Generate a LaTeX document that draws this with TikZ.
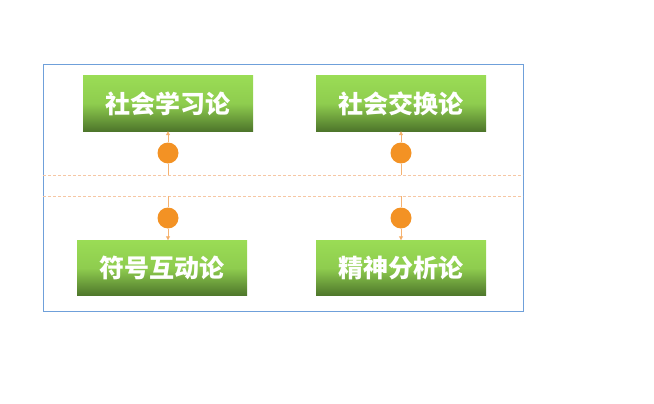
\documentclass[tikz,border=0pt]{standalone}
\usepackage{fontspec}
\newfontfamily\cjk{Noto Sans CJK SC}
\usepackage{xcolor}
\usepackage{tikz}
\usetikzlibrary{positioning,calc,arrows.meta}

\definecolor{framblue}{HTML}{6FA0DA}
\definecolor{lightorange}{HTML}{F6C7A4}
\definecolor{dotorange}{HTML}{F39224}
\definecolor{greentop}{HTML}{9ADC55}
\definecolor{greenbot}{HTML}{4E762B}

\begin{document}
\begin{tikzpicture}[
    x=1pt, y=-1pt,
    theory/.style={minimum width=170pt, minimum height=55pt, inner sep=0pt,
        top color=greentop, bottom color=greenbot, middle color=greentop!85!greenbot,
        font=\cjk\bfseries\fontsize{25}{25}\selectfont, text=white},
    dot/.style={circle, fill=dotorange, minimum size=21pt, inner sep=0pt},
    guide/.style={draw=lightorange, densely dashed, line width=1pt},
    link/.style={draw=lightorange!60!dotorange, line width=0.8pt},
    linkarrow/.style={link, -{Triangle[length=4pt,width=4pt,fill=dotorange!80]}}
]
\useasboundingbox (0,0) rectangle (654,404);
\draw[draw=framblue, line width=1pt] (43,65) rectangle (523,311);

% guide lines
\coordinate (gl1) at (43,175);
\coordinate (gr1) at (523,175);
\coordinate (gl2) at (43,196);
\coordinate (gr2) at (523,196);
\draw[guide] (gl1) -- (gr1);
\draw[guide] (gl2) -- (gr2);

% theories
\node[theory] (social)   at (168,103.5) {社会学习论};
\node[theory] (exchange) at (401,103.5) {社会交换论};
\node[theory] (symbol)   at (162,268)   {符号互动论};
\node[theory] (psycho)   at (401,268)   {精神分析论};

% dots
\node[dot] (d1) at (168,153) {};
\node[dot] (d2) at (401,153) {};
\node[dot] (d3) at (168,218) {};
\node[dot] (d4) at (401,218) {};

\coordinate (h1) at (168,175);
\coordinate (h2) at (401,175);
\coordinate (h3) at (168,196);
\coordinate (h4) at (401,196);

\draw[link] (h1) -- (d1);
\draw[link] (h2) -- (d2);
\draw[link] (h3) -- (d3);
\draw[link] (h4) -- (d4);
\draw[linkarrow] (d1) -- (d1 |- social.south);
\draw[linkarrow] (d2) -- (exchange);
\draw[linkarrow] (d3) -- (d3 |- symbol.north);
\draw[linkarrow] (d4) -- (psycho);
\end{tikzpicture}
\end{document}
